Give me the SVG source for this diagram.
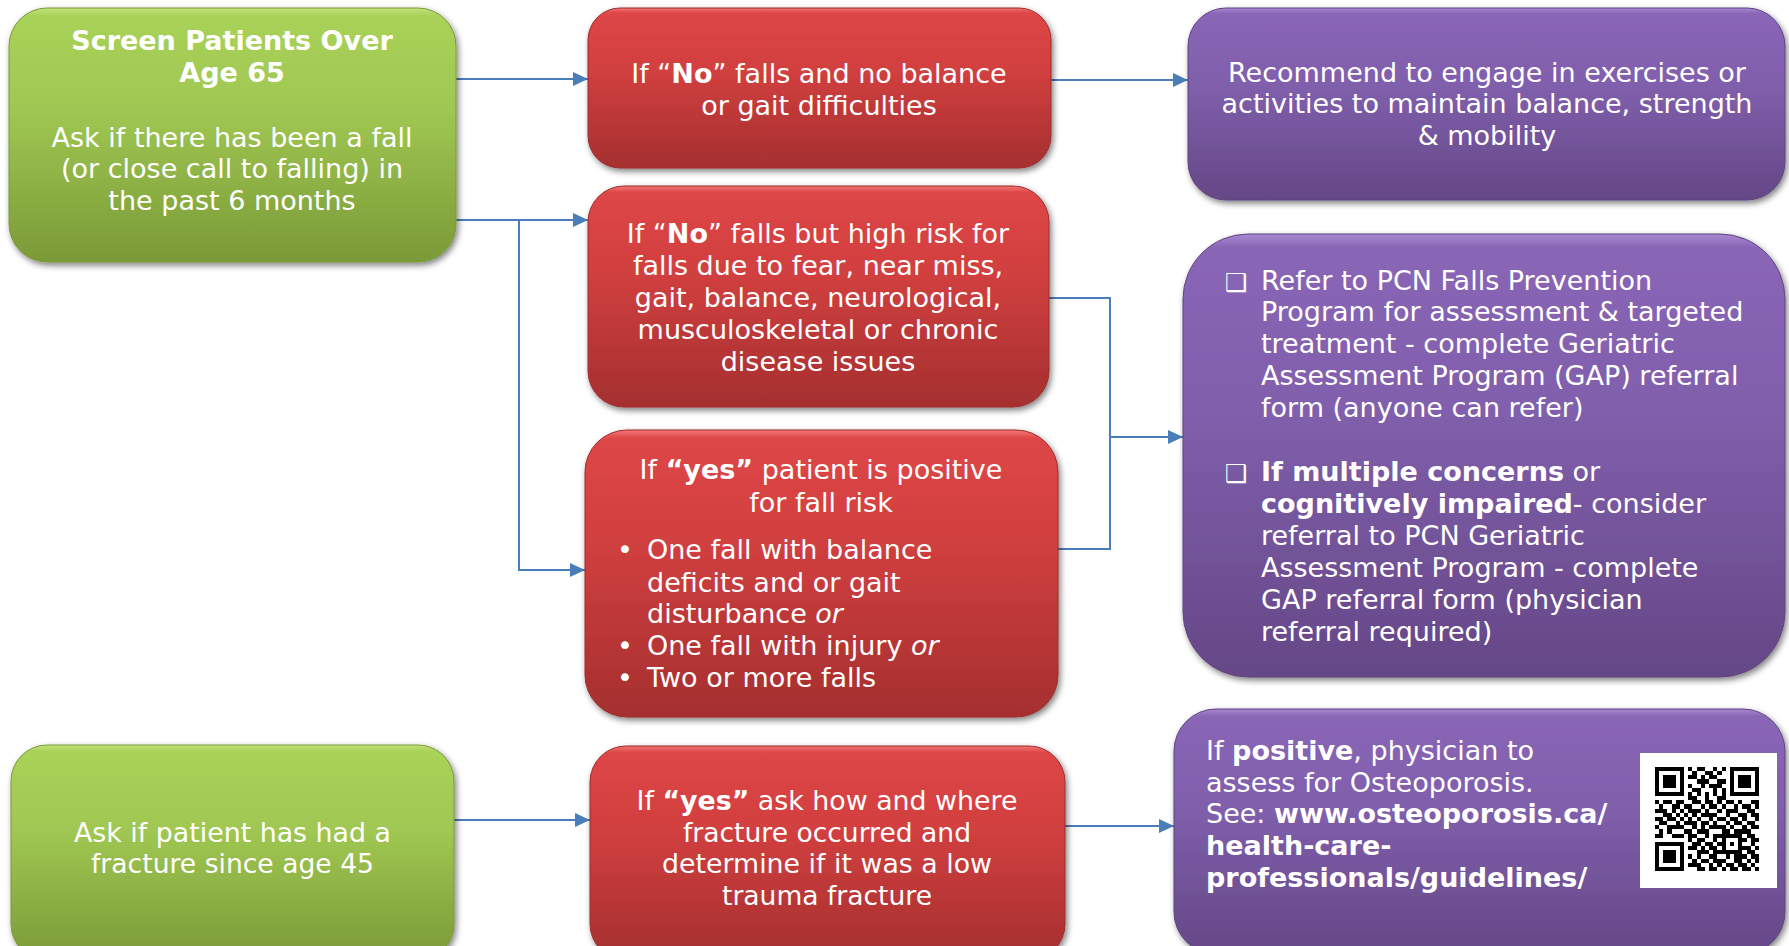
<svg xmlns="http://www.w3.org/2000/svg" width="1789" height="946" viewBox="0 0 1789 946">
<style>
.t{font-family:"DejaVu Sans",Verdana,sans-serif;font-size:27px;fill:#ffffff;}
.c{text-anchor:middle;}
.b{font-weight:bold;}
.i{font-style:italic;}
.ck{font-size:25px;}
.conn{fill:none;stroke:#4a7ebb;stroke-width:2;}
.box{filter:url(#sh);}
.g{fill:url(#gG);stroke:#7a9a37;stroke-width:1;}
.r{fill:url(#gR);stroke:#9e2d2d;stroke-width:1;}
.p{fill:url(#gP);stroke:#5f4380;stroke-width:1;}
</style>
<defs>
<linearGradient id="gG" x1="0" y1="0" x2="0" y2="1">
<stop offset="0" stop-color="#c2e27c"/><stop offset="0.03" stop-color="#a9d259"/><stop offset="0.4" stop-color="#a0c752"/><stop offset="1" stop-color="#7a9a37"/>
</linearGradient>
<linearGradient id="gR" x1="0" y1="0" x2="0" y2="1">
<stop offset="0" stop-color="#f27676"/><stop offset="0.03" stop-color="#de4646"/><stop offset="0.4" stop-color="#d13f3f"/><stop offset="1" stop-color="#a52f2f"/>
</linearGradient>
<linearGradient id="gP" x1="0" y1="0" x2="0" y2="1">
<stop offset="0" stop-color="#a888d2"/><stop offset="0.03" stop-color="#8a66b6"/><stop offset="0.4" stop-color="#805fac"/><stop offset="1" stop-color="#654786"/>
</linearGradient>
<filter id="sh" x="-5%" y="-5%" width="110%" height="115%">
<feGaussianBlur in="SourceAlpha" stdDeviation="3"/>
<feOffset dx="2" dy="3" result="o"/>
<feComponentTransfer><feFuncA type="linear" slope="0.5"/></feComponentTransfer>
<feMerge><feMergeNode/><feMergeNode in="SourceGraphic"/></feMerge>
</filter>
<marker id="ah" markerUnits="userSpaceOnUse" markerWidth="15" markerHeight="14" refX="15" refY="7" orient="auto">
<path d="M0,0 L15,7 L0,14 z" fill="#4a7ebb"/>
</marker>
</defs>
<rect width="1789" height="946" fill="#ffffff"/>

<g id="connectors">
<path class="conn" d="M456,79 H588" marker-end="url(#ah)"/>
<path class="conn" d="M456,220 H588" marker-end="url(#ah)"/>
<path class="conn" d="M519,220 V570 H585" marker-end="url(#ah)"/>
<path class="conn" d="M1051,80 H1188" marker-end="url(#ah)"/>
<path class="conn" d="M1049,298 H1110 V549 H1058"/>
<path class="conn" d="M1110,437 H1183" marker-end="url(#ah)"/>
<path class="conn" d="M454,820 H590" marker-end="url(#ah)"/>
<path class="conn" d="M1065,826 H1174" marker-end="url(#ah)"/>
</g>

<g id="screen65">
<rect class="box g" x="9" y="8" width="447" height="254" rx="38"/>
<text class="t c b" x="232" y="50">Screen Patients Over</text>
<text class="t c b" x="232" y="82">Age 65</text>
<text class="t c" x="232" y="147">Ask if there has been a fall</text>
<text class="t c" x="232" y="178">(or close call to falling) in</text>
<text class="t c" x="232" y="210">the past 6 months</text>
</g>

<g id="noFalls">
<rect class="box r" x="588" y="8" width="463" height="160" rx="32"/>
<text class="t c" x="819" y="83">If “<tspan class="b">No</tspan>” falls and no balance</text>
<text class="t c" x="819" y="115">or gait difficulties</text>
</g>

<g id="recommend">
<rect class="box p" x="1188" y="8" width="597" height="192" rx="38"/>
<text class="t c" x="1487" y="82">Recommend to engage in exercises or</text>
<text class="t c" x="1487" y="113">activities to maintain balance, strength</text>
<text class="t c" x="1487" y="145">&amp; mobility</text>
</g>

<g id="noFallsHighRisk">
<rect class="box r" x="588" y="186" width="461" height="221" rx="36"/>
<text class="t c" x="818" y="243">If “<tspan class="b">No</tspan>” falls but high risk for</text>
<text class="t c" x="818" y="275">falls due to fear, near miss,</text>
<text class="t c" x="818" y="307">gait, balance, neurological,</text>
<text class="t c" x="818" y="339">musculoskeletal or chronic</text>
<text class="t c" x="818" y="371">disease issues</text>
</g>

<g id="yesPositive">
<rect class="box r" x="585" y="430" width="473" height="287" rx="42"/>
<text class="t c" x="821" y="479">If <tspan class="b">“yes”</tspan> patient is positive</text>
<text class="t c" x="821" y="512">for fall risk</text>
<text class="t" x="617" y="559">•</text>
<text class="t" x="647" y="559">One fall with balance</text>
<text class="t" x="647" y="592">deficits and or gait</text>
<text class="t" x="647" y="623">disturbance <tspan class="i">or</tspan></text>
<text class="t" x="617" y="655">•</text>
<text class="t" x="647" y="655">One fall with injury <tspan class="i">or</tspan></text>
<text class="t" x="617" y="687">•</text>
<text class="t" x="647" y="687">Two or more falls</text>
</g>

<g id="refer">
<rect class="box p" x="1183" y="234" width="602" height="443" rx="65"/>
<text class="t ck" x="1225" y="291">❑</text>
<text class="t" x="1261" y="290">Refer to PCN Falls Prevention</text>
<text class="t" x="1261" y="321">Program for assessment &amp; targeted</text>
<text class="t" x="1261" y="353">treatment - complete Geriatric</text>
<text class="t" x="1261" y="385">Assessment Program (GAP) referral</text>
<text class="t" x="1261" y="417">form (anyone can refer)</text>
<text class="t ck" x="1225" y="482">❑</text>
<text class="t" x="1261" y="481"><tspan class="b">If multiple concerns</tspan> or</text>
<text class="t" x="1261" y="513"><tspan class="b">cognitively impaired</tspan>- consider</text>
<text class="t" x="1261" y="545">referral to PCN Geriatric</text>
<text class="t" x="1261" y="577">Assessment Program - complete</text>
<text class="t" x="1261" y="609">GAP referral form (physician</text>
<text class="t" x="1261" y="641">referral required)</text>
</g>

<g id="fracture">
<rect class="box g" x="11" y="745" width="443" height="215" rx="36"/>
<text class="t c" x="232.5" y="842" textLength="317" lengthAdjust="spacingAndGlyphs">Ask if patient has had a</text>
<text class="t c" x="232.5" y="873" textLength="283" lengthAdjust="spacingAndGlyphs">fracture since age 45</text>
</g>

<g id="yesFracture">
<rect class="box r" x="590" y="746" width="475" height="214" rx="36"/>
<text class="t c" x="827" y="810" textLength="381" lengthAdjust="spacingAndGlyphs">If <tspan class="b">“yes”</tspan> ask how and where</text>
<text class="t c" x="827" y="842" textLength="288" lengthAdjust="spacingAndGlyphs">fracture occurred and</text>
<text class="t c" x="827" y="873" textLength="330" lengthAdjust="spacingAndGlyphs">determine if it was a low</text>
<text class="t c" x="827" y="905" textLength="210" lengthAdjust="spacingAndGlyphs">trauma fracture</text>
</g>

<g id="osteoporosis">
<rect class="box p" x="1174" y="709" width="611" height="245" rx="42"/>
<text class="t" x="1206" y="760">If <tspan class="b">positive</tspan>, physician to</text>
<text class="t" x="1206" y="792">assess for Osteoporosis.</text>
<text class="t" x="1206" y="823">See: <tspan class="b">www.osteoporosis.ca/</tspan></text>
<text class="t b" x="1206" y="855">health-care-</text>
<text class="t b" x="1206" y="887">professionals/guidelines/</text>
<rect x="1640" y="753" width="137" height="135" fill="#ffffff"/>
<path fill="#000000" shape-rendering="crispEdges" transform="translate(1655,767) scale(4.16)" d="M0 0h7v1h-7zM8 0h1v1h-1zM10 0h2v1h-2zM14 0h1v1h-1zM16 0h1v1h-1zM18 0h7v1h-7zM0 1h1v1h-1zM6 1h1v1h-1zM9 1h1v1h-1zM12 1h2v1h-2zM15 1h1v1h-1zM18 1h1v1h-1zM24 1h1v1h-1zM0 2h1v1h-1zM2 2h3v1h-3zM6 2h1v1h-1zM8 2h2v1h-2zM11 2h1v1h-1zM13 2h2v1h-2zM18 2h1v1h-1zM20 2h3v1h-3zM24 2h1v1h-1zM0 3h1v1h-1zM2 3h3v1h-3zM6 3h1v1h-1zM10 3h3v1h-3zM15 3h2v1h-2zM18 3h1v1h-1zM20 3h3v1h-3zM24 3h1v1h-1zM0 4h1v1h-1zM2 4h3v1h-3zM6 4h1v1h-1zM8 4h1v1h-1zM11 4h1v1h-1zM13 4h3v1h-3zM18 4h1v1h-1zM20 4h3v1h-3zM24 4h1v1h-1zM0 5h1v1h-1zM6 5h1v1h-1zM9 5h2v1h-2zM14 5h1v1h-1zM16 5h1v1h-1zM18 5h1v1h-1zM24 5h1v1h-1zM0 6h7v1h-7zM8 6h1v1h-1zM10 6h1v1h-1zM12 6h1v1h-1zM14 6h1v1h-1zM16 6h1v1h-1zM18 6h7v1h-7zM8 7h2v1h-2zM12 7h1v1h-1zM15 7h2v1h-2zM0 8h1v1h-1zM2 8h2v1h-2zM5 8h2v1h-2zM9 8h2v1h-2zM12 8h2v1h-2zM15 8h1v1h-1zM17 8h2v1h-2zM20 8h1v1h-1zM23 8h2v1h-2zM1 9h1v1h-1zM4 9h2v1h-2zM7 9h2v1h-2zM11 9h1v1h-1zM13 9h2v1h-2zM16 9h1v1h-1zM19 9h1v1h-1zM21 9h2v1h-2zM24 9h1v1h-1zM0 10h3v1h-3zM4 10h1v1h-1zM6 10h1v1h-1zM8 10h3v1h-3zM12 10h1v1h-1zM15 10h1v1h-1zM17 10h3v1h-3zM22 10h2v1h-2zM2 11h2v1h-2zM5 11h1v1h-1zM7 11h1v1h-1zM9 11h1v1h-1zM11 11h4v1h-4zM17 11h1v1h-1zM20 11h2v1h-2zM23 11h2v1h-2zM0 12h2v1h-2zM3 12h2v1h-2zM6 12h1v1h-1zM8 12h1v1h-1zM10 12h1v1h-1zM13 12h1v1h-1zM15 12h2v1h-2zM18 12h2v1h-2zM21 12h1v1h-1zM24 12h1v1h-1zM1 13h2v1h-2zM5 13h1v1h-1zM7 13h3v1h-3zM11 13h2v1h-2zM14 13h1v1h-1zM17 13h1v1h-1zM19 13h2v1h-2zM22 13h2v1h-2zM0 14h1v1h-1zM3 14h4v1h-4zM9 14h1v1h-1zM11 14h1v1h-1zM13 14h4v1h-4zM18 14h1v1h-1zM21 14h1v1h-1zM23 14h2v1h-2zM1 15h1v1h-1zM3 15h1v1h-1zM7 15h2v1h-2zM10 15h3v1h-3zM16 15h2v1h-2zM19 15h4v1h-4zM0 16h2v1h-2zM4 16h3v1h-3zM8 16h2v1h-2zM12 16h1v1h-1zM14 16h7v1h-7zM22 16h2v1h-2zM8 17h1v1h-1zM10 17h2v1h-2zM14 17h1v1h-1zM16 17h1v1h-1zM20 17h2v1h-2zM23 17h2v1h-2zM0 18h7v1h-7zM9 18h2v1h-2zM12 18h2v1h-2zM15 18h2v1h-2zM18 18h1v1h-1zM20 18h1v1h-1zM23 18h1v1h-1zM0 19h1v1h-1zM6 19h1v1h-1zM8 19h2v1h-2zM11 19h1v1h-1zM13 19h2v1h-2zM16 19h1v1h-1zM20 19h3v1h-3zM24 19h1v1h-1zM0 20h1v1h-1zM2 20h3v1h-3zM6 20h1v1h-1zM10 20h3v1h-3zM14 20h7v1h-7zM22 20h2v1h-2zM0 21h1v1h-1zM2 21h3v1h-3zM6 21h1v1h-1zM8 21h1v1h-1zM10 21h1v1h-1zM13 21h2v1h-2zM17 21h1v1h-1zM19 21h3v1h-3zM23 21h2v1h-2zM0 22h1v1h-1zM2 22h3v1h-3zM6 22h1v1h-1zM9 22h1v1h-1zM11 22h2v1h-2zM14 22h3v1h-3zM19 22h2v1h-2zM22 22h1v1h-1zM24 22h1v1h-1zM0 23h1v1h-1zM6 23h1v1h-1zM8 23h3v1h-3zM13 23h1v1h-1zM15 23h1v1h-1zM17 23h2v1h-2zM20 23h2v1h-2zM23 23h1v1h-1zM0 24h7v1h-7zM10 24h2v1h-2zM13 24h2v1h-2zM16 24h1v1h-1zM18 24h2v1h-2zM21 24h2v1h-2zM24 24h1v1h-1z"/>
</g>
</svg>
